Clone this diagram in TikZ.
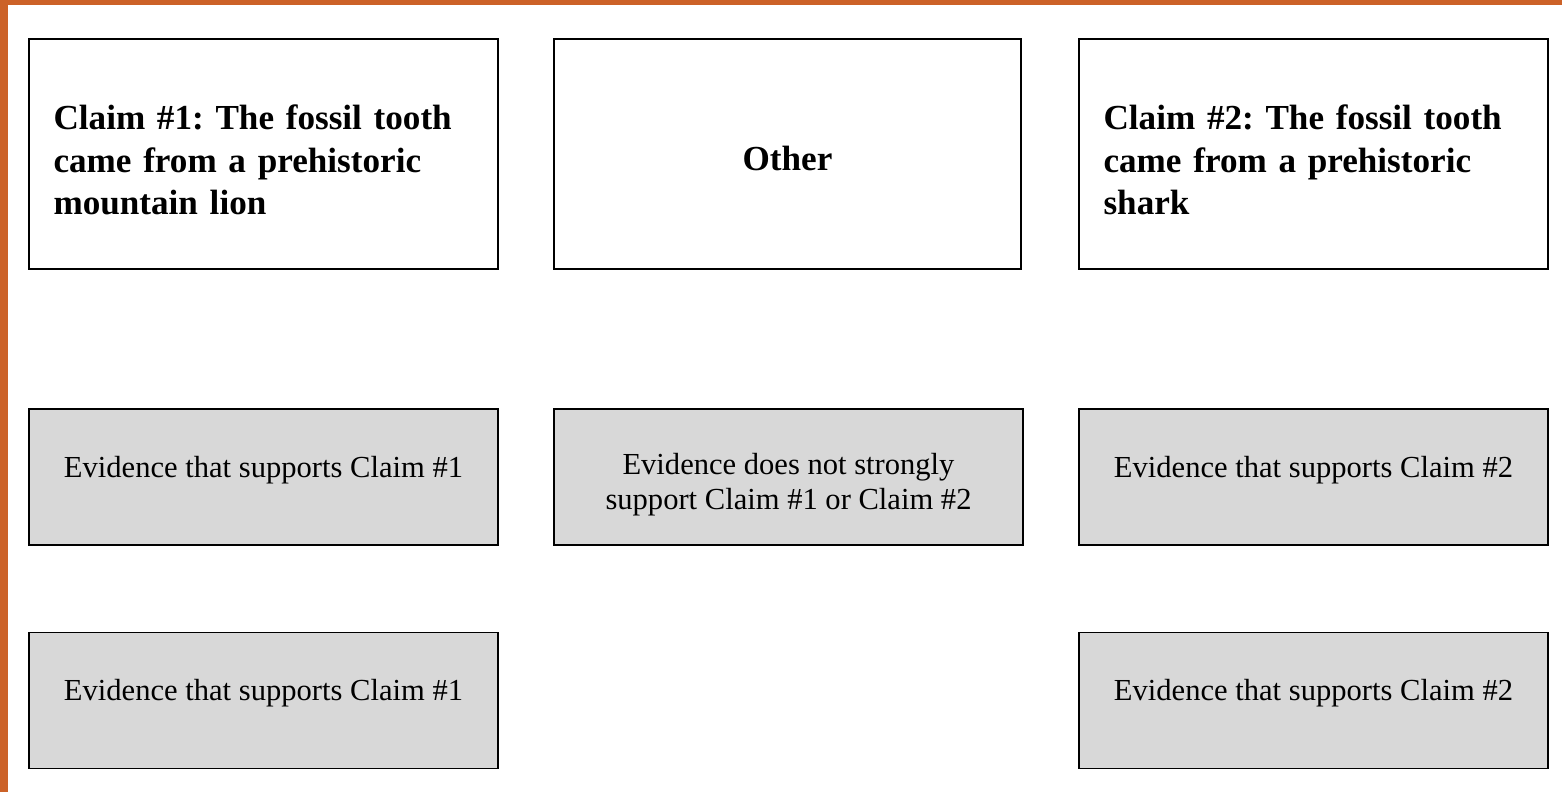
\documentclass[tikz,border=0pt]{standalone}
\usepackage{fontspec}
\setmainfont{Liberation Serif}
\frenchspacing
\definecolor{rust}{RGB}{204,98,40}
\definecolor{evgray}{RGB}{216,216,216}
\tikzset{
  box/.style={draw,line width=1.1pt,inner sep=0pt},
  claim/.style={box,minimum width=9.38cm,minimum height=4.6cm,text width=8.4cm,align=left,text height=0.73cm,font=\fontsize{20}{24}\selectfont\bfseries},
  other/.style={box,minimum width=9.34cm,minimum height=4.6cm,align=center,text height=0.68cm,font=\fontsize{20}{24}\selectfont\bfseries},
  evidence/.style={box,fill=evgray,minimum width=9.38cm,minimum height=2.72cm,align=center,font=\fontsize{17.4}{19.5}\selectfont},
  oneline/.style={text depth=0.42cm},
  twoline/.style={text height=1.42cm}
}
\begin{document}
\begin{tikzpicture}[x=0.02cm,y=-0.02cm]
\useasboundingbox (0,0) rectangle (1562,792);
\fill[rust] (0,0) rectangle (8,792);
\fill[rust] (0,0) rectangle (1562,5);
% claims
\node[claim] (claimA) at (263.5,154) {Claim \#1: The fossil tooth\\came from a prehistoric\\mountain lion};
\node[other] (other) at (787.5,154) {Other};
\node[claim] (claimB) at (1313.5,154) {Claim \#2: The fossil tooth\\came from a prehistoric\\shark};
% evidence
\foreach \y/\n in {477/1,700.5/2}{
  \node[evidence,oneline] (evA\n) at (263.5,\y) {Evidence that supports Claim \#1};
  \node[evidence,oneline] (evB\n) at (1313.5,\y) {Evidence that supports Claim \#2};
}
\node[evidence,twoline] (evNone) at (788.5,477) {Evidence does not strongly\\support Claim \#1 or Claim \#2};
\end{tikzpicture}
\end{document}
